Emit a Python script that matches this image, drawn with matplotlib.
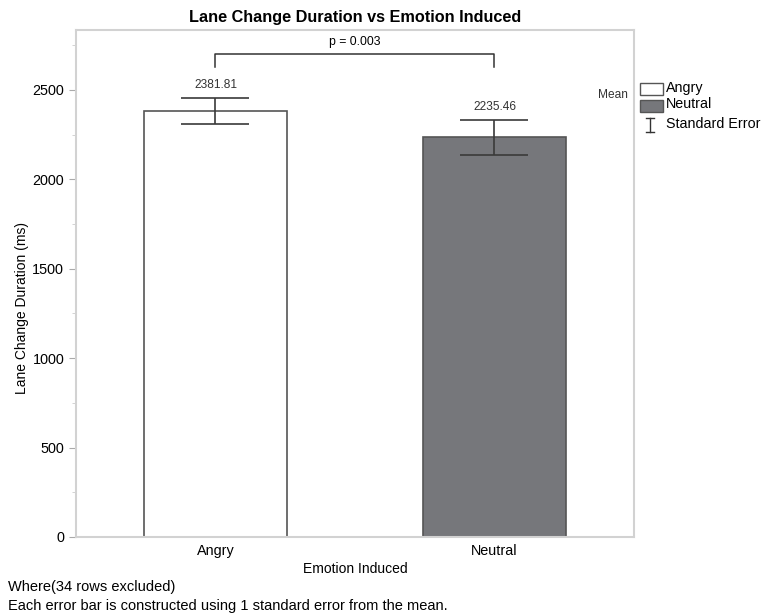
import matplotlib.pyplot as plt
from matplotlib.patches import Rectangle
from matplotlib.lines import Line2D

plt.rcParams['font.family'] = ['Liberation Sans', 'DejaVu Sans']

# data
emotions = ['Angry', 'Neutral']
means = [2381.81, 2235.46]
std_err = [72, 98]
p_label = 'p = 0.003'

W, H = 761, 615
fig = plt.figure(figsize=(W / 100, H / 100), dpi=100)

# axes box in pixels: left 76, right 634, top 30, bottom 537
ax = fig.add_axes([76 / W, 1 - 537 / H, (634 - 76) / W, (537 - 30) / H])

bar_colors = ['white', '#76777b']
ax.bar(range(len(emotions)), means, width=0.515, color=bar_colors,
       edgecolor='#555555', linewidth=1.2, zorder=2)
ax.errorbar(range(len(emotions)), means, yerr=std_err, fmt='none',
            ecolor='#3a3a3a', elinewidth=1.2, capsize=24.5, capthick=1.2, zorder=3)

# value labels above error bars
for i, (m, s) in enumerate(zip(means, std_err)):
    ax.text(i, m + s + 40, f'{m:.2f}', ha='center', va='bottom', fontsize=8.6, color='#333333')

# significance bracket
y_top, y_end = 2700, 2630
ax.plot([0, 0, 1, 1], [y_end, y_top, y_top, y_end], color='#333333', lw=1.1, zorder=3)
ax.text(0.5, y_top + 35, p_label, ha='center', va='bottom', fontsize=8.8)

ax.set_xlim(-0.5, 1.5)
ax.set_ylim(0, 2835)
ax.set_xticks(range(len(emotions)))
ax.set_xticklabels(emotions, fontsize=10.4)
ax.set_yticks(range(0, 2501, 500))
ax.set_yticks(range(250, 2800, 500), minor=True)
ax.tick_params(axis='y', which='major', length=5, color='#aaaaaa', labelsize=10.4, direction='out')
ax.tick_params(axis='y', which='minor', length=3, color='#cccccc', direction='out')
ax.tick_params(axis='x', length=0, pad=5)

for sp in ax.spines.values():
    sp.set_color('#d2d2d2')
    sp.set_linewidth(1.5)

ax.set_xlabel('Emotion Induced', fontsize=10, labelpad=3)
ax.set_title('Lane Change Duration vs Emotion Induced', fontsize=11.7,
             fontweight='bold', pad=6)

def fx(x):
    return x / W

def fy(y):
    return 1 - y / H

fig.text(fx(22), fy(308), 'Lane Change Duration (ms)', rotation=90,
         ha='center', va='center', fontsize=10)

# legend drawn by hand on the right
fig.text(fx(613), fy(95), 'Mean', ha='center', va='center', fontsize=8.6, color='#333333')
for y0, col in [(83, 'white'), (100, '#76777b')]:
    fig.add_artist(Rectangle((fx(640), fy(y0 + 12)), fx(23), 12 / H,
                             facecolor=col, edgecolor='#555555', lw=1.0,
                             transform=fig.transFigure))
fig.add_artist(Line2D([fx(650), fx(650)], [fy(118), fy(132)], color='#333333', lw=1.0))
fig.add_artist(Line2D([fx(646), fx(654)], [fy(118), fy(118)], color='#333333', lw=1.0))
fig.add_artist(Line2D([fx(646), fx(654)], [fy(132), fy(132)], color='#333333', lw=1.0))
fig.text(fx(666), fy(88), 'Angry', va='center', fontsize=10.3)
fig.text(fx(666), fy(104), 'Neutral', va='center', fontsize=10.3)
fig.text(fx(666), fy(124), 'Standard Error', va='center', fontsize=10.3)

# footnotes
fig.text(fx(8), fy(587), 'Where(34 rows excluded)', va='center', fontsize=10.5)
fig.text(fx(8), fy(606), 'Each error bar is constructed using 1 standard error from the mean.',
         va='center', fontsize=10.5)

fig.savefig('out.png', dpi=100)
